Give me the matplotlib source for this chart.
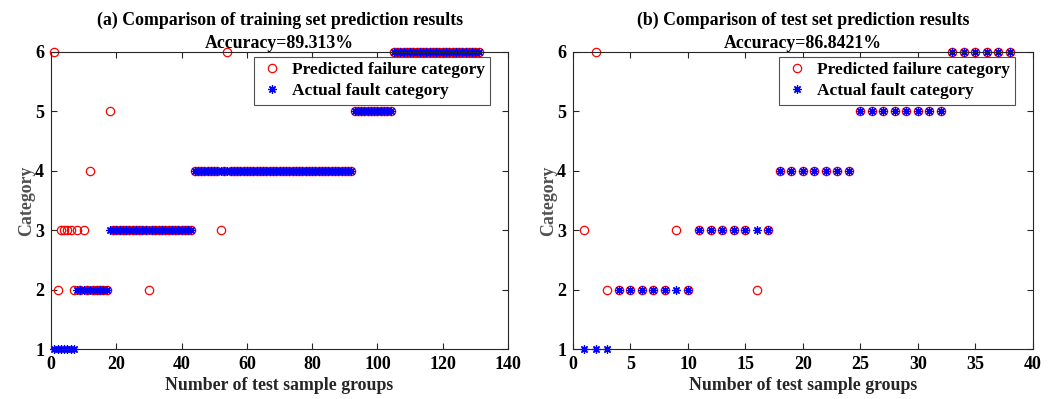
import numpy as np
import matplotlib
matplotlib.use("Agg")
import matplotlib.pyplot as plt

plt.rcParams['font.family'] = ['Liberation Serif', 'DejaVu Serif']
plt.rcParams['font.weight'] = 'bold'
plt.rcParams['axes.titleweight'] = 'bold'
plt.rcParams['axes.labelweight'] = 'bold'

# Training set: actual class per sample (131 samples)
train_actual_counts = [7, 10, 26, 49, 12, 27]  # samples in class 1..6
# misclassified training samples: sample number -> predicted class
train_wrong_idx = [1, 2, 3, 4, 5, 6, 7, 8, 10, 12, 18, 30, 52, 54]
train_wrong_pred = [6, 2, 3, 3, 3, 3, 2, 3, 3, 4, 5, 2, 3, 6]

# Test set (38 samples)
test_actual = [1, 1, 1, 2, 2, 2, 2, 2, 2, 2, 3, 3, 3, 3, 3, 3, 3,
               4, 4, 4, 4, 4, 4, 4, 5, 5, 5, 5, 5, 5, 5, 5, 6, 6, 6, 6, 6, 6]
test_pred = [3, 6, 2, 2, 2, 2, 2, 2, 3, 2, 3, 3, 3, 3, 3, 2, 3,
             4, 4, 4, 4, 4, 4, 4, 5, 5, 5, 5, 5, 5, 5, 5, 6, 6, 6, 6, 6, 6]

train_actual = np.repeat(np.arange(1, 7), train_actual_counts)
train_pred = train_actual.copy()
for i, p in zip(train_wrong_idx, train_wrong_pred):
    train_pred[i - 1] = p


def accuracy(a, p):
    return 100.0 * np.mean(np.asarray(a) == np.asarray(p))


fig = plt.figure(figsize=(10.56, 3.99), dpi=100)
ax1 = fig.add_axes([0.0483, 0.1253, 0.4328, 0.7444])
ax2 = fig.add_axes([0.5426, 0.1253, 0.4356, 0.7444])

star = (8, 2, 0)
gray = '#262626'

panels = [
    (ax1, train_actual, train_pred, 140, np.arange(0, 141, 20),
     '(a) Comparison of training set prediction results\nAccuracy=%.3f%%'),
    (ax2, test_actual, test_pred, 40, np.arange(0, 41, 5),
     '(b) Comparison of test set prediction results\nAccuracy=%.4f%%'),
]

for ax, act, pred, xmax, xt, title in panels:
    n = np.arange(1, len(act) + 1)
    ax.plot(n, pred, 'o', ls='none', mfc='none', mec='red', ms=6, mew=0.9,
            label='Predicted failure category', clip_on=False)
    ax.plot(n, act, ls='none', marker=star, color='blue', ms=6, mew=0.9,
            label='Actual fault category', clip_on=False)
    ax.set_xlim(0, xmax)
    ax.set_ylim(1, 6)
    ax.set_xticks(xt)
    ax.set_yticks(range(1, 7))
    ax.tick_params(direction='in', length=4, labelsize=13, colors=gray,
                   top=True, right=True, pad=5)
    for lab in ax.get_xticklabels() + ax.get_yticklabels():
        lab.set_color('black')
    for sp in ax.spines.values():
        sp.set_color(gray)
        sp.set_linewidth(0.8)
    ax.set_xlabel('Number of test sample groups', fontsize=12.75, color=gray,
                  labelpad=3)
    ax.set_ylabel('Category', fontsize=12.75, color='#505050', labelpad=0)
    ax.set_title(title % accuracy(act, pred), fontsize=12.75, linespacing=1.45,
                 pad=3)
    leg = ax.legend(loc='upper right', bbox_to_anchor=(0.968, 0.995),
                    fontsize=12.5, frameon=True, fancybox=False, borderpad=0.3,
                    handletextpad=0.4, handlelength=1.45, labelspacing=0.28,
                    borderaxespad=0.2)
    leg.get_frame().set_edgecolor(gray)
    leg.get_frame().set_linewidth(0.8)

fig.savefig('out.png', dpi=100)
